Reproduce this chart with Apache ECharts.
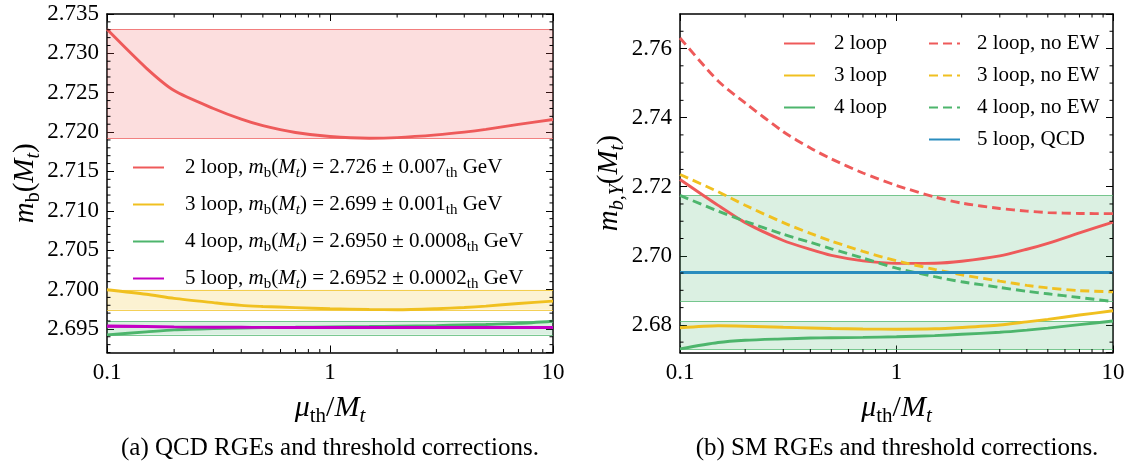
<!DOCTYPE html>
<html><head><meta charset="utf-8">
<script src="https://cdn.jsdelivr.net/npm/echarts@6/dist/echarts.min.js"></script>
<style>html,body{margin:0;padding:0;background:#fff}#c{width:1148px;height:465px}</style>
</head><body><div id="c"></div><script>
// ---------------- data ----------------
const mu = [0.1, 0.15, 0.2, 0.3, 0.4, 0.5, 0.7, 1, 1.5, 2, 3, 4, 5, 7, 10];

// (a) QCD RGEs
const qcd2 = [2.73305, 2.72813, 2.72527, 2.72300, 2.72164, 2.72081, 2.71994, 2.71943, 2.71922, 2.71930, 2.71964, 2.71999, 2.72034, 2.72098, 2.72160];
const qcd3 = [2.69997, 2.69940, 2.69887, 2.69833, 2.69798, 2.69785, 2.69770, 2.69756, 2.69747, 2.69743, 2.69756, 2.69772, 2.69789, 2.69823, 2.69852];
const qcd4 = [2.69424, 2.69462, 2.69488, 2.69505, 2.69512, 2.69516, 2.69520, 2.69525, 2.69530, 2.69535, 2.69542, 2.69550, 2.69556, 2.69570, 2.69597];
const qcd5 = [2.69536, 2.69530, 2.69525, 2.69521, 2.69520, 2.69519, 2.69518, 2.69518, 2.69518, 2.69518, 2.69518, 2.69518, 2.69518, 2.69518, 2.69518];

// (b) SM RGEs
const sm2 = [2.72209, 2.71459, 2.70960, 2.70443, 2.70183, 2.70010, 2.69851, 2.69779, 2.69785, 2.69843, 2.69996, 2.70189, 2.70362, 2.70662, 2.70977];
const sm3 = [2.67915, 2.67975, 2.67961, 2.67929, 2.67909, 2.67895, 2.67880, 2.67875, 2.67886, 2.67924, 2.67996, 2.68088, 2.68160, 2.68284, 2.68408];
const sm4 = [2.67303, 2.67488, 2.67554, 2.67594, 2.67618, 2.67626, 2.67638, 2.67655, 2.67690, 2.67727, 2.67785, 2.67848, 2.67906, 2.68007, 2.68111];
const noEW2 = [2.76307, 2.75058, 2.74426, 2.73592, 2.73118, 2.72804, 2.72397, 2.72036, 2.71704, 2.71525, 2.71370, 2.71294, 2.71251, 2.71225, 2.71220];
const noEW3 = [2.72354, 2.71854, 2.71462, 2.70960, 2.70648, 2.70426, 2.70126, 2.69854, 2.69606, 2.69450, 2.69266, 2.69144, 2.69069, 2.68991, 2.68957];
const noEW4 = [2.71747, 2.71294, 2.71000, 2.70622, 2.70388, 2.70203, 2.69932, 2.69641, 2.69395, 2.69248, 2.69084, 2.68971, 2.68899, 2.68792, 2.68674];
const qcd5b = [2.69517, 2.69517, 2.69517, 2.69517, 2.69517, 2.69517, 2.69517, 2.69517, 2.69517, 2.69517, 2.69517, 2.69517, 2.69517, 2.69517, 2.69517];

// ticks
const xMinorTicks = [0.2, 0.3, 0.4, 0.5, 0.6, 0.7, 0.8, 0.9, 2, 3, 4, 5, 6, 7, 8, 9];
const leftYMinorTicks = [2.692, 2.693, 2.694, 2.696, 2.697, 2.698, 2.699, 2.701, 2.702, 2.703, 2.704, 2.706, 2.707, 2.708, 2.709,
  2.711, 2.712, 2.713, 2.714, 2.716, 2.717, 2.718, 2.719, 2.721, 2.722, 2.723, 2.724, 2.726, 2.727, 2.728, 2.729, 2.731, 2.732, 2.733, 2.734];
const rightYMinorTicks = [2.675, 2.685, 2.690, 2.695, 2.705, 2.710, 2.715, 2.725, 2.730, 2.735, 2.745, 2.750, 2.755, 2.765];

// legend texts
const leftLegend = {
  L2: '2 loop, {i|m}{s|b}({i|M}{si|t}) = 2.726 ± 0.007{s|th} GeV',
  L3: '3 loop, {i|m}{s|b}({i|M}{si|t}) = 2.699 ± 0.001{s|th} GeV',
  L4: '4 loop, {i|m}{s|b}({i|M}{si|t}) = 2.6950 ± 0.0008{s|th} GeV',
  L5: '5 loop, {i|m}{s|b}({i|M}{si|t}) = 2.6952 ± 0.0002{s|th} GeV'
};
const rightLegendA = ['2 loop', '3 loop', '4 loop'];
const rightLegendB = ['2 loop, no EW', '3 loop, no EW', '4 loop, no EW', '5 loop, QCD'];

// ---------------- style ----------------
const SERIF = "'Liberation Serif', 'DejaVu Serif', serif";
const RED = '#EE5A5A', YEL = '#F0C020', GRN = '#4DB56C', MAG = '#C400C4', BLU = '#2A8DBE';
const fillOf = c => echarts.color.modifyAlpha(c, 0.2);
const edgeOf = c => echarts.color.modifyAlpha(c, 0.75);

function mathRich(fs) {
  const sf = Math.round(fs * 0.7), pd = Math.round(fs * 0.55);
  return {
    i: {fontFamily: SERIF, fontStyle: 'italic', fontSize: fs, color: '#000', lineHeight: fs + 2},
    s: {fontFamily: SERIF, fontSize: sf, color: '#000', lineHeight: sf, padding: [pd, 0, 0, 0]},
    si: {fontFamily: SERIF, fontStyle: 'italic', fontSize: sf, color: '#000', lineHeight: sf, padding: [pd, 0, 0, 0]}
  };
}

const pairs = (xs, ys) => xs.map((x, i) => [x, ys[i]]);
const vmin = a => Math.min.apply(null, a), vmax = a => Math.max.apply(null, a);

function xAxis(grid, pos, labels) {
  const ax = {
    type: 'log', logBase: 10, min: 0.1, max: 10, gridIndex: grid, position: pos,
    axisLine: {show: true, onZero: false, lineStyle: {color: '#000', width: 1.5}},
    axisTick: {show: true, inside: true, length: 7, lineStyle: {color: '#000', width: 1}},
    axisLabel: {show: labels, color: '#000', fontFamily: SERIF, fontSize: 23, margin: 9,
      formatter: v => String(+(+v).toPrecision(6))},
    splitLine: {show: false}
  };
  if (labels) {
    ax.name = '{i|μ}{s|th}/{i|M}{si|t}';
    ax.nameLocation = 'middle';
    ax.nameGap = 36;
    ax.nameTextStyle = {fontFamily: SERIF, fontSize: 30, color: '#000', rich: mathRich(30)};
  }
  return ax;
}
function yAxis(grid, pos, labels, min, max, iv, dec, name, nameGap) {
  const ax = {
    type: 'value', gridIndex: grid, position: pos, min: min, max: max,
    splitNumber: Math.round((max - min) / iv), minInterval: iv, maxInterval: iv,
    axisLine: {show: true, onZero: false, lineStyle: {color: '#000', width: 1.5}},
    axisTick: {show: true, inside: true, length: 7, lineStyle: {color: '#000', width: 1}},
    axisLabel: {show: labels, color: '#000', fontFamily: SERIF, fontSize: 23, margin: 8,
      showMinLabel: false, showMaxLabel: dec === 3,
      formatter: v => (+v).toFixed(dec)},
    splitLine: {show: false}
  };
  if (name) {
    ax.name = name;
    ax.nameLocation = 'middle';
    ax.nameGap = nameGap;
    ax.nameRotate = 90;
    ax.nameTextStyle = {fontFamily: SERIF, fontSize: 29, color: '#000', rich: mathRich(29)};
  }
  return ax;
}

function curve(name, xi, ys, color, dashed, band) {
  const s = {
    name: name, type: 'line', xAxisIndex: xi, yAxisIndex: xi, data: pairs(mu, ys),
    symbol: 'none', showSymbol: false, smooth: 0.25, animation: false,
    lineStyle: {color: color, width: 2.9, type: dashed ? [9, 5] : 'solid'},
    itemStyle: {color: color}
  };
  if (band) {
    const lo = vmin(ys), hi = vmax(ys);
    s.markArea = {silent: true, z: 1, itemStyle: {color: fillOf(color)}, data: [[{yAxis: lo}, {yAxis: hi}]]};
    s.markLine = {silent: true, z: 1, symbol: 'none', precision: 6, animation: false, label: {show: false},
      lineStyle: {color: edgeOf(color), width: 1.2, type: 'solid'}, data: [{yAxis: lo}, {yAxis: hi}]};
  }
  return s;
}

function minorX(xi, ticks, yRef) {
  return {
    type: 'custom', xAxisIndex: xi, yAxisIndex: xi, clip: false, silent: true, z: 10,
    data: ticks.map(t => [t, yRef]),
    renderItem: (params, api) => {
      const cs = params.coordSys;
      const px = api.coord([api.value(0), api.value(1)])[0];
      const b = cs.y + cs.height, t = cs.y;
      return {type: 'group', children: [
        {type: 'line', shape: {x1: px, y1: b, x2: px, y2: b - 3.5}, style: {stroke: '#000', lineWidth: 1}},
        {type: 'line', shape: {x1: px, y1: t, x2: px, y2: t + 3.5}, style: {stroke: '#000', lineWidth: 1}}
      ]};
    }
  };
}
function minorY(xi, ticks) {
  return {
    type: 'custom', xAxisIndex: xi, yAxisIndex: xi, clip: false, silent: true, z: 10,
    data: ticks.map(t => [1, t]),
    renderItem: (params, api) => {
      const cs = params.coordSys;
      const py = api.coord([api.value(0), api.value(1)])[1];
      const l = cs.x, r = cs.x + cs.width;
      return {type: 'group', children: [
        {type: 'line', shape: {x1: l, y1: py, x2: l + 3.5, y2: py}, style: {stroke: '#000', lineWidth: 1}},
        {type: 'line', shape: {x1: r, y1: py, x2: r - 3.5, y2: py}, style: {stroke: '#000', lineWidth: 1}}
      ]};
    }
  };
}

const legendBase = (extra, pad) => Object.assign({
  orient: 'vertical', itemWidth: 31, itemHeight: 14, selectedMode: false,
  itemStyle: {color: 'rgba(0,0,0,0)', borderWidth: 0, opacity: 0},
  textStyle: {fontFamily: SERIF, fontSize: 21, color: '#000', lineHeight: 23, padding: [0, 0, 0, pad], rich: mathRich(21)}
}, extra);

const option = {
  animation: false,
  backgroundColor: '#fff',
  grid: [
    {left: 107, top: 14, width: 446, height: 338.5},
    {left: 680, top: 14, width: 433, height: 338.5}
  ],
  xAxis: [xAxis(0, 'bottom', true), xAxis(0, 'top', false), xAxis(1, 'bottom', true), xAxis(1, 'top', false)],
  yAxis: [
    yAxis(0, 'left', true, 2.692, 2.735, 0.005, 3, '{i|m}{s|b}({i|M}{si|t})', 61),
    yAxis(0, 'right', false, 2.692, 2.735, 0.005, 3),
    yAxis(1, 'left', true, 2.672, 2.770, 0.02, 2, '{i|m}{si|b,Y}({i|M}{si|t})', 47),
    yAxis(1, 'right', false, 2.672, 2.770, 0.02, 2)
  ],
  legend: [
    legendBase({data: ['L2', 'L3', 'L4', 'L5'], left: 127, top: 149, itemGap: 10,
      formatter: n => leftLegend[n]}, 16),
    legendBase({data: rightLegendA, left: 778, top: 27, itemGap: 9}, 14),
    legendBase({data: rightLegendB, left: 923, top: 27, itemGap: 9}, 12)
  ],
  series: [
    curve('L2', 0, qcd2, RED, false, true),
    curve('L3', 0, qcd3, YEL, false, true),
    curve('L4', 0, qcd4, GRN, false, true),
    curve('L5', 0, qcd5, MAG, false, true),
    curve('2 loop', 2, sm2, RED, false, false),
    curve('3 loop', 2, sm3, YEL, false, false),
    curve('4 loop', 2, sm4, GRN, false, true),
    curve('2 loop, no EW', 2, noEW2, RED, true, false),
    curve('3 loop, no EW', 2, noEW3, YEL, true, false),
    curve('4 loop, no EW', 2, noEW4, GRN, true, true),
    curve('5 loop, QCD', 2, qcd5b, BLU, false, false),
    minorX(0, xMinorTicks, 2.7), minorY(0, leftYMinorTicks),
    minorX(2, xMinorTicks, 2.7), minorY(2, rightYMinorTicks)
  ],
  graphic: [
    {type: 'text', x: 330, y: 448, style: {text: '(a) QCD RGEs and threshold corrections.', font: '25px ' + SERIF, fill: '#000', textAlign: 'center', textVerticalAlign: 'middle'}},
    {type: 'text', x: 897, y: 448, style: {text: '(b) SM RGEs and threshold corrections.', font: '25px ' + SERIF, fill: '#000', textAlign: 'center', textVerticalAlign: 'middle'}}
  ]
};
const chart = echarts.init(document.getElementById('c'));
chart.setOption(option);
</script></body></html>
